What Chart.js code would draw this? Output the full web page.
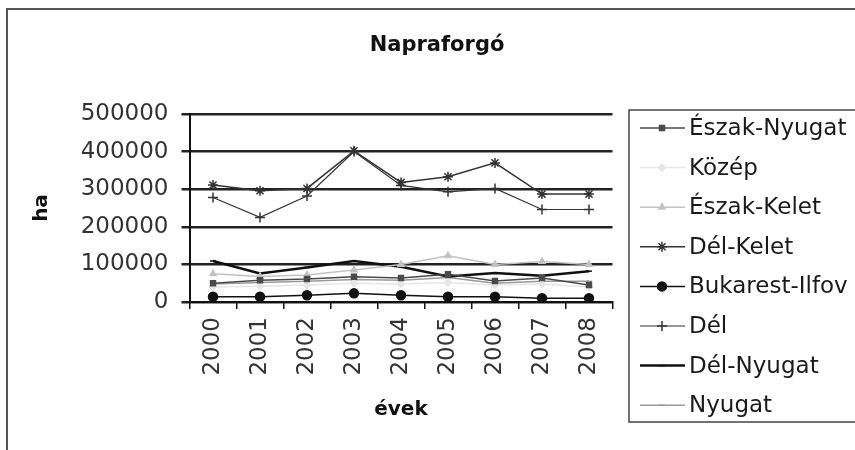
<!DOCTYPE html>
<html>
<head>
<meta charset="utf-8">
<script src="https://cdn.jsdelivr.net/npm/chart.js@4/dist/chart.umd.min.js"></script>
<style>
  html, body { margin: 0; padding: 0; background: #fff; }
  #wrap { width: 855px; height: 450px; }
</style>
</head>
<body>
<div id="wrap"><canvas id="chart-line" width="855" height="450"></canvas></div>
<script>
/*  adatok  */
const years = ["2000", "2001", "2002", "2003", "2004", "2005", "2006", "2007", "2008"];
const regions = ["Észak-Nyugat", "Közép", "Észak-Kelet", "Dél-Kelet", "Bukarest-Ilfov", "Dél", "Dél-Nyugat", "Nyugat"];
const eszakNyugat = [50000, 58000, 61000, 67000, 64000, 74000, 56000, 64000, 45000];
const kozep = [40000, 42000, 45000, 50000, 48000, 52000, 45000, 48000, 40000];
const eszakKelet = [75000, 68000, 72000, 85000, 100000, 123000, 100000, 108000, 100000];
const delKelet = [311000, 296000, 302000, 402000, 318000, 333000, 370000, 287000, 287000];
const bukarest = [14000, 14000, 18000, 23000, 18000, 14000, 14000, 10000, 10000];
const del = [278000, 225000, 282000, 400000, 310000, 293000, 302000, 246000, 246000];
const delNyugat = [109000, 76000, 92000, 109000, 94000, 68000, 77000, 70000, 82000];
const nyugat = [48000, 52000, 55000, 60000, 58000, 65000, 50000, 55000, 55000];
const yTicks = [0, 100000, 200000, 300000, 400000, 500000];

const FONT = "'DejaVu Sans', sans-serif";

// sorozat stílusok
const styles = [
  { color: "#4a4a4a", width: 1.5, point: "rect", radius: 3.5 },
  { color: "#e6e6e6", width: 1.5, point: "rectRot", radius: 3.5 },
  { color: "#c2c2c2", width: 1.5, point: "triangle", radius: 3.5 },
  { color: "#333333", width: 1.5, point: "star", radius: 5 },
  { color: "#111111", width: 1.5, point: "circle", radius: 4.5 },
  { color: "#333333", width: 1.2, point: "cross", radius: 5 },
  { color: "#111111", width: 2.5, point: "line", radius: 3 },
  { color: "#9a9a9a", width: 1.5, point: "line", radius: 3 },
];
const seriesData = [eszakNyugat, kozep, eszakKelet, delKelet, bukarest, del, delNyugat, nyugat];

const datasets = regions.map((name, i) => ({
  label: name,
  data: seriesData[i],
  borderColor: styles[i].color,
  backgroundColor: styles[i].color,
  borderWidth: styles[i].width,
  pointStyle: styles[i].point,
  pointRadius: styles[i].radius,
  pointBorderWidth: 1.5,
  tension: 0,
}));

// keret, cím, jelmagyarázat
const decor = {
  id: "decor",
  beforeDraw(chart) {
    const ctx = chart.ctx;
    ctx.save();
    ctx.fillStyle = "#fff";
    ctx.fillRect(0, 0, chart.width, chart.height);
    ctx.strokeStyle = "#555";
    ctx.lineWidth = 2;
    ctx.strokeRect(7, 9, 900, 500);
    ctx.restore();
  },
  afterDraw(chart) {
    const ctx = chart.ctx;
    ctx.save();
    ctx.fillStyle = "#111";
    ctx.font = `bold 21px ${FONT}`;
    ctx.textAlign = "center";
    ctx.textBaseline = "middle";
    ctx.fillText("Napraforgó", 437, 46);

    // jelmagyarázat doboza
    ctx.strokeStyle = "#444";
    ctx.lineWidth = 1.5;
    ctx.strokeRect(629, 110, 300, 312);

    ctx.font = `23px ${FONT}`;
    ctx.textAlign = "left";
    chart.data.datasets.forEach((ds, i) => {
      const y = 128 + i * 39.6;
      ctx.strokeStyle = ds.borderColor;
      ctx.lineWidth = ds.borderWidth;
      ctx.beginPath();
      ctx.moveTo(640, y);
      ctx.lineTo(685, y);
      ctx.stroke();
      ctx.fillStyle = ds.backgroundColor;
      ctx.lineWidth = 1.5;
      Chart.helpers.drawPoint(ctx, { pointStyle: ds.pointStyle, radius: ds.pointRadius, borderWidth: 1.5, rotation: 0 }, 662, y);
      ctx.fillStyle = "#1a1a1a";
      ctx.fillText(ds.label, 689, y + 1);
    });
    ctx.restore();
  },
};

new Chart(document.getElementById("chart-line"), {
  type: "line",
  data: { labels: years, datasets: datasets },
  plugins: [decor],
  options: {
    responsive: false,
    animation: false,
    devicePixelRatio: 1,
    layout: { padding: { top: 114, right: 242.5, bottom: 0, left: 0 } },
    plugins: {
      legend: { display: false },
      title: { display: false },
      tooltip: { enabled: false },
    },
    scales: {
      x: {
        offset: true,
        afterFit: (scale) => { scale.height = 148; },
        border: { display: true, color: "#111", width: 2 },
        grid: {
          offset: true,
          drawOnChartArea: false,
          drawTicks: true,
          tickLength: 7,
          color: "#111",
          lineWidth: 1.5,
        },
        ticks: {
          autoSkip: false,
          minRotation: 90,
          maxRotation: 90,
          padding: 8,
          color: "#333",
          font: { family: FONT, size: 23 },
        },
        title: {
          display: true,
          text: "évek",
          color: "#111",
          font: { family: FONT, size: 20, weight: "bold" },
          padding: { top: 0, bottom: 28 },
        },
      },
      y: {
        min: 0,
        max: 500000,
        afterFit: (scale) => { scale.width = 189.5; },
        afterBuildTicks: (scale) => { scale.ticks = yTicks.map((v) => ({ value: v })); },
        border: { display: true, color: "#111", width: 2 },
        grid: {
          color: "#222",
          lineWidth: 2.5,
          drawTicks: true,
          tickLength: 8,
        },
        ticks: {
          padding: 13,
          color: "#333",
          font: { family: FONT, size: 23 },
          callback: (value) => String(value),
        },
        title: {
          display: true,
          text: "ha",
          color: "#111",
          font: { family: FONT, size: 20, weight: "bold" },
          padding: { top: 30, bottom: 0 },
        },
      },
    },
  },
});
</script>
</body>
</html>
